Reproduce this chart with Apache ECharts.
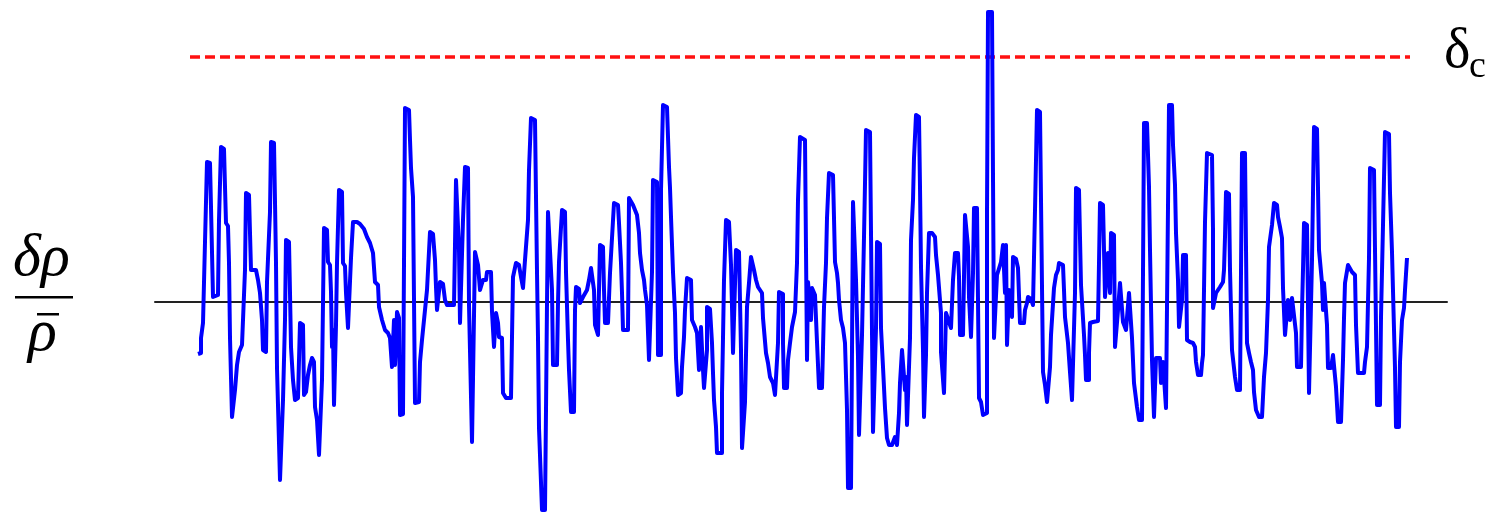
<!DOCTYPE html>
<html>
<head>
<meta charset="utf-8">
<script src="https://cdn.jsdelivr.net/npm/echarts@6/dist/echarts.min.js"></script>
<style>
  html, body { margin: 0; padding: 0; background: #ffffff; }
  #chart { width: 1493px; height: 513px; }
</style>
</head>
<body>
<div id="chart"></div>
<script>
// Density contrast signal (arbitrary units): [time, contrast]
const segment1 = [[0,-52],[3,-51],[3,-36],[5,-35],[5,-21],[7,-20],[7,60],[9,60],[9,140],[12,139],[13,95],[14,50],[15,5],[20,7],[21,82],[23,82],[23,155],[26,153],[27,115],[28,79],[30,76],[31,39],[32,-36],[33,-38],[34,-115],[36,-114],[37,-88],[39,-63],[41,-50],[44,-43],[46,-41],[47,32],[48,109],[51,107],[52,69],[53,32],[58,32],[60,22],[62,9],[64,-18],[65,-48],[68,-50],[69,20],[72,90],[73,160],[76,159],[77,100],[78,39],[79,-66],[81,-68],[82,-178],[84,-177],[85,-98],[87,-18],[88,62],[91,60],[92,9],[93,-45]];
const segment2 = [[95,-78],[97,-98],[100,-96],[101,-58],[102,-21],[105,-23],[106,-93],[108,-90],[110,-73],[112,-63],[114,-56],[116,-60],[117,-105],[119,-118],[121,-153],[123,-152],[124,-78],[125,-1],[126,74],[129,72],[130,40],[132,37],[133,10],[134,-45],[135,-28],[136,-103],[137,-102],[138,-23],[139,39],[141,112],[144,110],[145,39],[147,36],[148,9],[150,-26],[152,-26],[153,44],[155,80],[159,80],[162,78],[166,73],[169,65],[172,59],[175,49],[177,20],[180,17],[181,-5],[184,-18],[187,-28],[190,-31],[192,-36],[194,-65]];
const segment3 = [[196,-18],[197,-63],[198,-43],[199,-10],[201,-16],[202,-113],[205,-112],[206,39],[207,194],[211,192],[212,162],[213,134],[215,105],[216,2],[217,-101],[221,-100],[222,-60],[224,-38],[226,-38],[229,12],[231,12],[232,70],[235,68],[237,42],[238,15],[239,-8],[241,-8],[242,20],[245,18],[247,2],[249,-3],[256,-3],[257,57],[258,122],[260,120],[261,52],[262,-21],[264,-21],[265,82],[267,135],[270,134],[271,-3],[273,-3],[274,-140],[276,-140],[277,50],[279,48],[280,37],[282,12],[284,12],[285,22],[288,22],[289,30],[291,32],[293,30],[294,-10],[296,-45]];
const segment4 = [[298,-11],[300,-21],[301,-35],[304,-36],[305,-91],[308,-96],[313,-96],[314,-35],[315,25],[316,27],[318,39],[321,37],[323,25],[325,14],[326,14],[327,42],[329,44],[330,82],[331,132],[333,184],[337,182],[338,105],[339,30],[340,-36],[341,-126],[344,-208],[347,-208],[348,-108],[349,-1],[350,90],[352,88],[354,12],[355,-63],[359,-63],[360,-1],[361,40],[364,92],[367,90],[368,30],[370,-38],[371,-68],[373,-110],[376,-110],[377,-8],[378,15],[381,13],[382,-1],[384,-3],[385,5],[389,12],[391,22],[393,34],[395,32],[396,12],[397,-23]];
const segment5 = [[400,-33],[401,12],[402,57],[405,55],[406,12],[407,-21],[410,-21],[412,29],[414,64],[416,99],[420,97],[421,79],[422,59],[423,39],[424,9],[425,-28],[430,-28],[431,104],[433,104],[435,97],[437,92],[439,87],[441,69],[442,49],[444,32],[446,22],[447,12],[449,-3],[451,-58],[453,-58],[454,30],[455,122],[459,120],[460,-53],[463,-53],[463,112],[465,197],[469,195],[470,165],[471,135],[472,114],[473,85],[475,30],[477,-11],[478,-56],[480,-93],[483,-91],[484,-65],[486,-35],[487,-8],[489,24],[493,22],[494,-18],[497,-25],[499,-31],[501,-68]];
const segment6 = [[503,-25],[505,-68],[506,-86],[508,-86],[509,-48],[509,-5],[512,-7],[514,-41],[515,-71],[516,-98],[518,-125],[519,-151],[524,-151],[524,-91],[525,-36],[526,22],[528,82],[531,80],[533,37],[534,-5],[535,-51],[537,-51],[538,52],[541,50],[543,-48],[544,-146],[546,-146],[547,-100],[548,-53],[549,-5],[551,19],[553,45],[555,43],[556,32],[558,22],[560,15],[564,9],[565,-16],[568,-51],[570,-61],[572,-75],[575,-81],[577,-93],[579,-92],[580,-41],[581,10],[585,8],[585,-41],[586,-86],[589,-86],[590,-58],[592,-41],[594,-25],[597,-10],[599,39],[600,102],[602,165]];
const segment7 = [[604,164],[607,162],[608,52],[609,-58],[610,20],[612,18],[613,-18],[614,14],[616,12],[617,7],[619,-40],[621,-42],[621,-86],[624,-86],[625,-46],[626,-5],[627,-5],[628,39],[629,84],[631,129],[635,127],[636,84],[637,40],[639,29],[640,19],[641,2],[643,-18],[645,-26],[647,-41],[649,-108],[650,-186],[653,-186],[654,-48],[655,100],[657,98],[658,22],[660,-55],[661,-133],[663,-133],[664,-33],[666,65],[668,172],[672,170],[673,69],[674,-30],[675,-130],[677,-130],[678,-26],[679,60],[682,58],[683,-26],[685,-65],[687,-106],[689,-136],[691,-143],[694,-143],[697,-135],[699,-143],[701,-111],[702,-81],[704,-48]];
const segment8 = [[706,-48],[707,-88],[708,-75],[709,-123],[711,-123],[712,-36],[713,62],[714,62],[715,102],[716,144],[718,187],[721,185],[722,115],[723,35],[724,35],[725,-48],[726,-115],[728,-115],[728,-53],[729,9],[730,9],[731,69],[734,69],[737,65],[738,47],[739,47],[740,27],[742,25],[743,-11],[743,-50],[745,-50],[746,-91],[748,-91],[748,-11],[750,-13],[753,-26],[754,-26],[755,22],[757,49],[760,49],[761,25],[762,-33],[765,-33],[766,25],[767,87],[769,85],[770,55],[771,5],[773,-35],[775,-35],[775,29],[776,94],[779,94],[780,2],[781,-96],[783,-100],[785,-113],[789,-111],[789,89],[790,290],[794,290],[795,125],[796,-36],[798,-36],[799,27],[801,27],[803,40],[805,57],[807,9]];
const segment9 = [[808,57],[809,-43],[811,12],[813,12],[814,-15],[815,45],[818,43],[820,34],[821,32],[822,-21],[826,-21],[827,-8],[829,-1],[830,5],[833,3],[835,-3],[836,-1],[837,92],[839,192],[842,190],[843,102],[844,15],[845,-70],[846,-70],[847,-83],[849,-100],[851,-100],[852,-65],[853,-33],[856,14],[858,27],[860,32],[861,39],[865,37],[866,12],[867,-15],[870,-41],[872,-70],[874,-98],[876,-96],[877,9],[878,114],[881,112],[882,64],[883,17],[885,15],[886,-33],[887,-53],[888,-78],[891,-78],[891,-51],[892,-21],[895,-20],[896,-18],[900,-19],[901,39],[902,99],[905,97],[906,52],[907,5]];
const segment10 = [[910,49],[912,9],[913,69],[916,67],[917,-45],[919,-45],[920,-8],[922,19],[924,17],[925,-20],[927,-20],[928,-28],[931,9],[933,7],[934,-36],[935,-36],[936,-81],[938,-83],[939,-105],[941,-118],[944,-118],[945,30],[946,179],[949,179],[951,115],[952,52],[953,-3],[954,-58],[956,-115],[957,-114],[958,-56],[962,-56],[963,-81],[965,-60],[968,-106],[969,-5],[970,95],[971,197],[974,197],[975,157],[977,117],[978,69],[980,22],[981,-25],[983,-25],[984,2],[985,47],[988,47],[989,-38],[992,-40],[995,-41],[997,-45],[998,-60],[1000,-73],[1003,-73],[1004,-61],[1005,-53],[1006,12],[1007,80],[1009,149]];
const segment11 = [[1014,147],[1015,72],[1015,-6],[1017,-5],[1018,9],[1020,12],[1022,15],[1025,20],[1026,32],[1027,65],[1028,110],[1031,108],[1032,32],[1034,30],[1034,-48],[1036,-50],[1037,-75],[1039,-76],[1039,-88],[1042,-88],[1043,30],[1044,149],[1047,149],[1048,54],[1049,-41],[1050,-41],[1051,-51],[1053,-60],[1055,-68],[1056,-90],[1058,-108],[1061,-115],[1064,-115],[1065,-95],[1066,-75],[1068,-51],[1070,2],[1071,55],[1074,77],[1076,99],[1079,97],[1080,85],[1082,75],[1084,64],[1085,14],[1087,-33],[1089,-31],[1090,2],[1092,-18],[1094,4],[1095,2],[1098,-31],[1099,-65],[1103,-65],[1104,-8],[1105,32],[1106,79],[1109,77],[1110,-5],[1111,-91]];
const segment12 = [[1113,-90],[1114,42],[1116,175],[1119,173],[1120,114],[1121,52],[1123,52],[1124,19],[1125,-8],[1126,19],[1128,17],[1129,-23],[1130,-66],[1133,-66],[1135,-53],[1137,-53],[1138,-85],[1140,-120],[1143,-120],[1145,-58],[1146,-16],[1147,19],[1150,37],[1152,35],[1154,30],[1157,27],[1158,-23],[1160,-71],[1166,-71],[1167,-60],[1169,-45],[1171,44],[1172,134],[1176,132],[1177,52],[1179,-103],[1182,-103],[1183,-15],[1185,77],[1187,170],[1191,168],[1192,109],[1194,50],[1197,-66],[1198,-125],[1201,-125],[1202,-60],[1204,-18],[1206,-6],[1207,12],[1209,44]];

// collapse threshold (same arbitrary units) and the time span it is drawn over
const deltaC = 245;
const thresholdSpan = [-8, 1212];

const signal = [].concat(segment1, segment2, segment3, segment4, segment5, segment6,
  segment7, segment8, segment9, segment10, segment11, segment12);

const chart = echarts.init(document.getElementById('chart'), null, { renderer: 'canvas' });

const option = {
  animation: false,
  backgroundColor: '#ffffff',
  grid: { left: 155, right: 46, top: 0, bottom: 0, containLabel: false },
  xAxis: {
    type: 'value',
    min: -43,
    max: 1249,
    axisLine: { show: true, onZero: true, lineStyle: { color: '#222222', width: 2 } },
    axisTick: { show: false },
    axisLabel: { show: false },
    splitLine: { show: false }
  },
  yAxis: {
    type: 'value',
    min: -211,
    max: 302,
    axisLine: { show: false },
    axisTick: { show: false },
    axisLabel: { show: false },
    splitLine: { show: false }
  },
  series: [
    {
      type: 'line',
      data: thresholdSpan.map(t => [t, deltaC]),
      showSymbol: false,
      symbol: 'none',
      clip: false,
      lineStyle: { color: '#ff1111', width: 3.5, type: [10, 5] },
      z: 2
    },
    {
      type: 'line',
      data: signal,
      showSymbol: false,
      symbol: 'none',
      clip: false,
      lineStyle: { color: '#0000ff', width: 4, join: 'round', cap: 'butt' },
      z: 3
    }
  ],
  graphic: [
    { type: 'text', left: 13, top: 229,
      style: { text: 'δρ', font: 'italic 60px "Liberation Serif"', fill: '#000' } },
    { type: 'rect', left: 15, top: 296, shape: { width: 58, height: 2.5 }, style: { fill: '#000' } },
    { type: 'text', left: 28, top: 304,
      style: { text: 'ρ', font: 'italic 60px "Liberation Serif"', fill: '#000' } },
    { type: 'rect', left: 37, top: 313, shape: { width: 22, height: 2.5 }, style: { fill: '#000' } },
    { type: 'text', left: 1444, top: 24,
      style: { text: 'δ', font: '56px "Liberation Serif"', fill: '#000' } },
    { type: 'text', left: 1469, top: 48,
      style: { text: 'c', font: '38px "Liberation Serif"', fill: '#000' } }
  ]
};

chart.setOption(option);
</script>
</body>
</html>
